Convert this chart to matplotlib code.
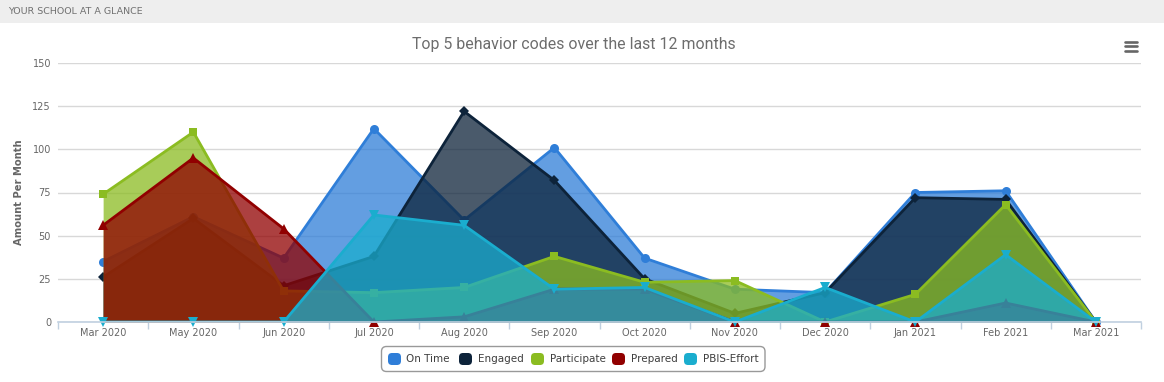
import matplotlib
matplotlib.use('Agg')
import matplotlib.pyplot as plt
from matplotlib.patches import FancyBboxPatch, Rectangle
from matplotlib.lines import Line2D

# ---------------- data ----------------
months = ['Mar 2020', 'May 2020', 'Jun 2020', 'Jul 2020', 'Aug 2020', 'Sep 2020',
          'Oct 2020', 'Nov 2020', 'Dec 2020', 'Jan 2021', 'Feb 2021', 'Mar 2021']
series_names = ['On Time', 'Engaged', 'Participate', 'Prepared', 'PBIS-Effort']
on_time     = [35, 61, 37, 112, 59, 101, 37, 19, 17, 75, 76, 0]
engaged     = [26, 60, 21, 38, 122, 82, 25, 5, 17, 72, 71, 0]
participate = [74, 110, 18, 17, 20, 38, 23, 24, 0, 16, 68, 0]
prepared    = [56, 95, 54, 0, 3, 19, 19, 0, 0, 0, 11, 0]
pbis_effort = [0, 0, 0, 62, 56, 19, 20, 0, 20, 0, 39, 0]
y_ticks = [0, 25, 50, 75, 100, 125, 150]

title = 'Top 5 behavior codes over the last 12 months'
y_label = 'Amount Per Month'
header = 'YOUR SCHOOL AT A GLANCE'

colors = ['#2f7ed8', '#0d233a', '#8bbc21', '#910000', '#1aadce']
markers = ['o', 'D', 's', '^', 'v']
msizes = [6.5, 5, 6, 6.5, 6.5]
all_series = [on_time, engaged, participate, prepared, pbis_effort]

# ---------------- figure ----------------
W, H = 1164, 382
fig = plt.figure(figsize=(W / 100, H / 100), dpi=100)
fig.patch.set_facecolor('white')


def fx(px):
    return px / W


def fy(py):
    return 1 - py / H


# overlay for pixel drawing
ov = fig.add_axes([0, 0, 1, 1], zorder=-5)
ov.set_xlim(0, W)
ov.set_ylim(H, 0)
ov.axis('off')
ov.add_patch(Rectangle((0, 0), W, 22.5, color='#eeeeee', lw=0))
ov.text(8, 11.5, header, fontsize=6.8, color='#707070', va='center', ha='left')

ax = fig.add_axes([fx(58), fy(322), (1141 - 58) / W, (322 - 63) / H])
x = list(range(len(months)))
for i, (name, vals) in enumerate(zip(series_names, all_series)):
    z = 2 + i
    ax.fill_between(x, vals, 0, color=colors[i], alpha=0.75, lw=0, zorder=z)
    ax.plot(x, vals, color=colors[i], lw=2, zorder=z + 0.1)
    ax.plot(x, vals, ls='none', marker=markers[i], ms=msizes[i], mew=0,
            color=colors[i], zorder=z + 0.2, clip_on=False)

ax.set_xlim(-0.5, len(months) - 0.5)
ax.set_ylim(0, 150)
ax.set_yticks(y_ticks)
ax.set_xticks(x)
ax.set_xticklabels(months)
ax.set_xticks([v - 0.5 for v in range(len(months) + 1)], minor=True)
ax.tick_params(axis='x', which='major', length=0, pad=4, labelsize=7, labelcolor='#666666')
ax.tick_params(axis='x', which='minor', length=5, width=1, color='#c0d0e0')
ax.tick_params(axis='y', length=0, pad=5, labelsize=7, labelcolor='#666666')
ax.grid(axis='y', color='#d8d8d8', lw=1, zorder=0)
ax.set_axisbelow(True)
for s in ['top', 'left', 'right']:
    ax.spines[s].set_visible(False)
ax.spines['bottom'].set_color('#c0d0e0')
ax.spines['bottom'].set_linewidth(1.2)
ax.spines['bottom'].set_zorder(8)
ax.patch.set_alpha(0)

fig.text(fx(19), fy(192.5), y_label, rotation=90, fontsize=7.2, fontweight='bold',
         color='#666666', ha='center', va='center')
t = fig.text(fx(574), fy(45), title, ha='center', va='center', fontsize=11,
             color='#6d6d6d', family=['Roboto', 'DejaVu Sans'])
fig.canvas.draw()
w = t.get_window_extent(renderer=fig.canvas.get_renderer()).width
t.set_fontsize(11 * 322.0 / w)

# hamburger menu icon
for yy in (41.5, 46, 50.5):
    ov.add_line(Line2D([1125, 1137], [yy, yy], lw=1.9, color='#666666',
                       solid_capstyle='round'))

# legend box
ov.add_patch(FancyBboxPatch((381.5, 346.5), 383.5, 25, boxstyle='round,pad=0,rounding_size=5',
                            fc='white', ec='#999999', lw=1))
sym_x = [388, 459, 531, 612, 684]
txt_x = [406, 478, 550, 631, 703]
for i, name in enumerate(series_names):
    ov.add_patch(FancyBboxPatch((sym_x[i], 353), 13, 12, boxstyle='round,pad=0,rounding_size=4',
                                fc=colors[i], ec='none'))
    ov.text(txt_x[i], 359, name, fontsize=7.5, color='#3e3e3e', va='center', ha='left')

fig.savefig('out.png', dpi=100)
